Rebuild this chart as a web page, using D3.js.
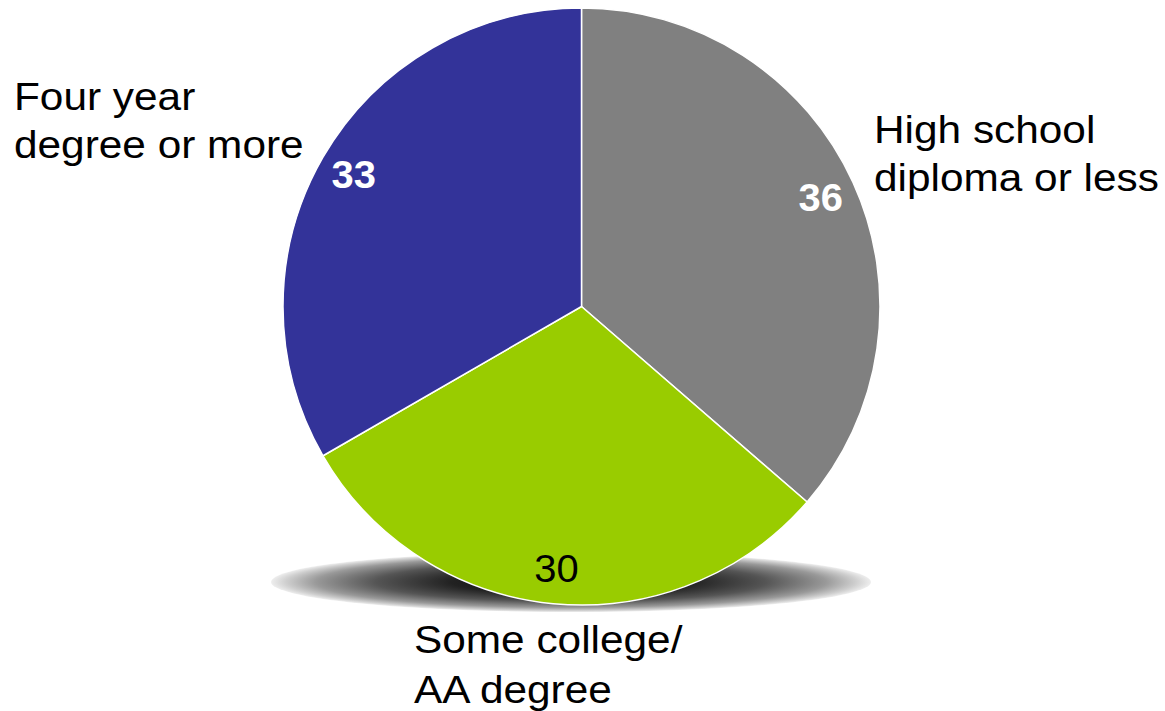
<!DOCTYPE html>
<html>
<head>
<meta charset="utf-8">
<script src="https://cdn.jsdelivr.net/npm/d3@7"></script>
<style>
  html, body { margin: 0; padding: 0; background: #fff; }
  svg { display: block; }
  text { font-family: "Liberation Sans", Arial, sans-serif; }
</style>
</head>
<body>
<svg id="chart" width="1165" height="711"></svg>
<script>
// ---- data ----
const categories = ["High school diploma or less", "Some college/ AA degree", "Four year degree or more"];
const labelLines = [["High school", "diploma or less"], ["Some college/", "AA degree"], ["Four year", "degree or more"]];
const values = [36, 30, 33];
const colors = ["#808080", "#99cc00", "#333399"];

// ---- layout ----
const W = 1165, H = 711;
const cx = 581.5, cy = 306.5, R = 298.5;
const labelR = 263;
const stretchX = 1.115;
const valueStyle = [
  { fill: "#fff", weight: "bold" },
  { fill: "#000", weight: "normal" },
  { fill: "#fff", weight: "bold" }
];
const catPos = [
  { x: 874, y: [143, 191] },
  { x: 414, y: [653, 703] },
  { x: 14,  y: [110, 158] }
];

const svg = d3.select("#chart");
const defs = svg.append("defs");

// shadow gradient
const grad = defs.append("radialGradient").attr("id", "shadowGrad")
  .attr("cx", "0.5").attr("cy", "0.5").attr("r", "0.5");
grad.append("stop").attr("offset", "0").attr("stop-color", "#000");
grad.append("stop").attr("offset", "0.4").attr("stop-color", "#222");
grad.append("stop").attr("offset", "0.65").attr("stop-color", "#555");
grad.append("stop").attr("offset", "0.85").attr("stop-color", "#999");
grad.append("stop").attr("offset", "0.95").attr("stop-color", "#cfcfcf");
grad.append("stop").attr("offset", "1").attr("stop-color", "#eeeeee");

svg.append("ellipse")
  .attr("cx", 571).attr("cy", 582)
  .attr("rx", 300).attr("ry", 30)
  .attr("fill", "url(#shadowGrad)");

const pie = d3.pie().sort(null).value(d => d);
const arcs = pie(values);
const arc = d3.arc().innerRadius(0).outerRadius(R);
const labelArc = d3.arc().innerRadius(labelR).outerRadius(labelR);

const g = svg.append("g").attr("transform", `translate(${cx},${cy})`);

g.selectAll("path.slice").data(arcs).join("path")
  .attr("class", "slice")
  .attr("d", arc)
  .attr("fill", (d, i) => colors[i])
  .attr("stroke", "#fff")
  .attr("stroke-width", 1.5)
  .attr("stroke-linejoin", "round");

g.selectAll("text.value").data(arcs).join("text")
  .attr("class", "value")
  .attr("transform", d => `translate(${labelArc.centroid(d)}) scale(1.05,1)`)
  .attr("text-anchor", "middle")
  .attr("dy", "0.35em")
  .attr("font-size", 38)
  .attr("font-weight", (d, i) => valueStyle[i].weight)
  .attr("fill", (d, i) => valueStyle[i].fill)
  .text(d => d.data);

const cat = svg.selectAll("text.cat").data(labelLines).join("text")
  .attr("class", "cat")
  .attr("transform", (d, i) => `translate(${catPos[i].x},0) scale(${stretchX},1)`)
  .attr("font-size", 38)
  .attr("fill", "#000");
cat.each(function(lines, i) {
  d3.select(this).selectAll("tspan").data(lines).join("tspan")
    .attr("x", 0)
    .attr("y", (l, j) => catPos[i].y[j])
    .text(l => l);
});
</script>
</body>
</html>
